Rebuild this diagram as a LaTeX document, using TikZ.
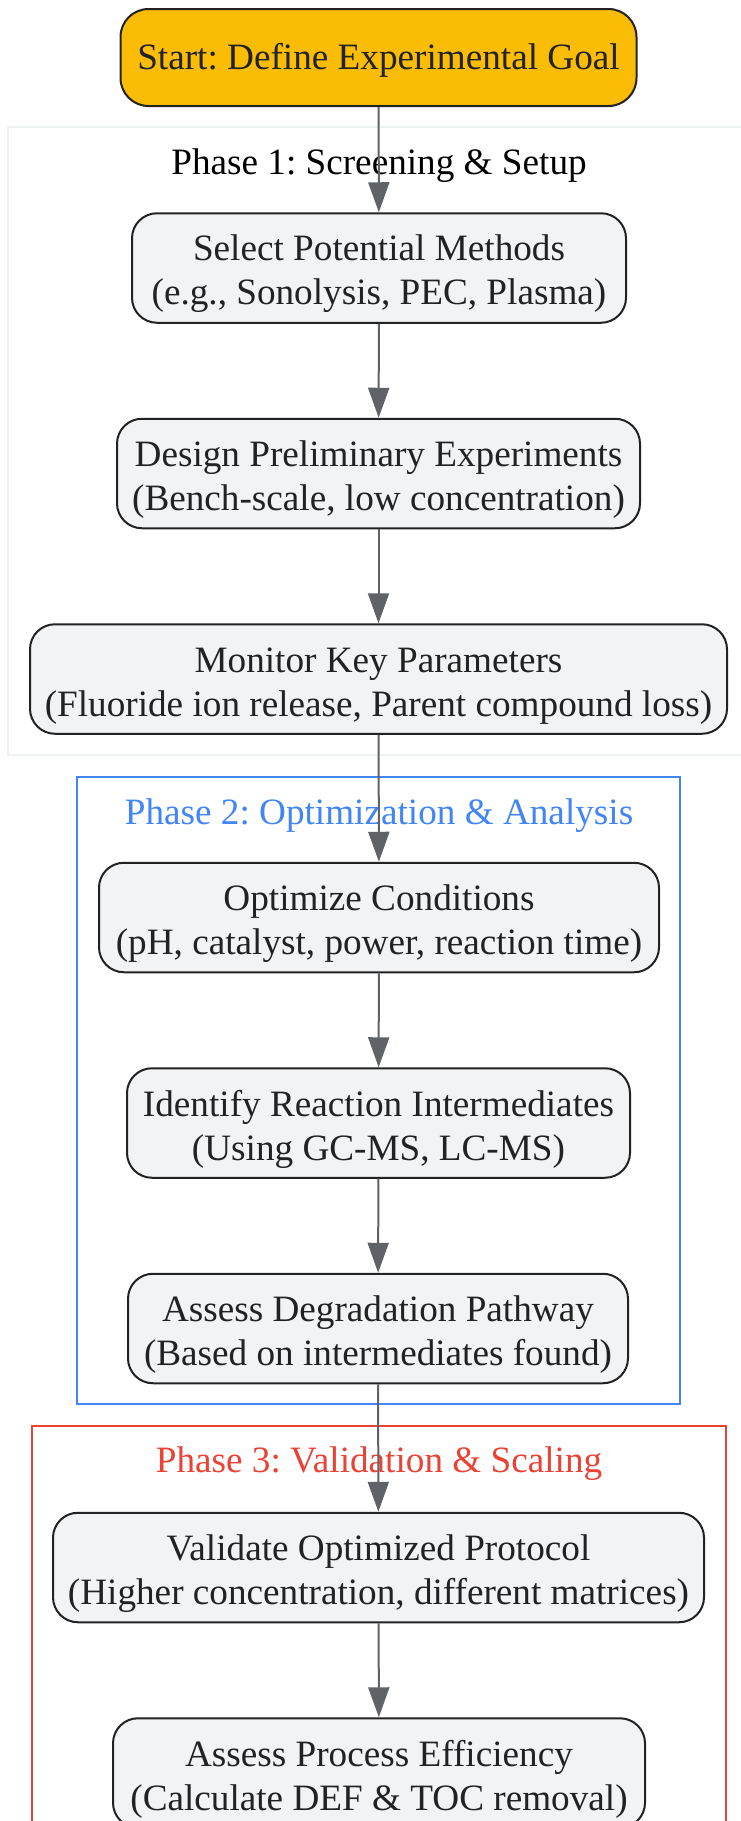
\documentclass[tikz,border=0pt]{standalone}
\usepackage{fontspec}
\setmainfont{Liberation Serif}
\usetikzlibrary{arrows.meta}
\frenchspacing

\definecolor{goalyellow}{HTML}{FBBC05}
\definecolor{stepgrey}{HTML}{F1F3F4}
\definecolor{edgeline}{HTML}{222222}
\definecolor{flowgrey}{HTML}{5F6368}
\definecolor{phaseonegrey}{HTML}{EEF3F2}
\definecolor{phasetwoblue}{HTML}{4285F4}
\definecolor{phasethreered}{HTML}{EA4335}

% invisible rule that pushes the first text line down inside a box
\def\steptop#1{\rule{0pt}{#1}}

\tikzset{
  stepbox/.style={draw=edgeline, line width=2pt, fill=stepgrey, rounded corners=25pt,
    align=center, inner sep=0pt, minimum height=109.5pt, text=edgeline,
    font=\fontsize{37.2}{44}\selectfont},
  startbox/.style={stepbox, fill=goalyellow, minimum height=97pt, rounded corners=28pt},
  phaseframe/.style={line width=2pt},
  phaselabel/.style={font=\fontsize{37.2}{44}\selectfont, inner sep=0pt, anchor=base},
  flow/.style={draw=flowgrey, line width=2pt, -{Triangle[length=30pt,width=21pt]}}
}

\begin{document}
\begin{tikzpicture}[x=1pt,y=-1pt]
		%%%%% START %%%%%
		\useasboundingbox[fill=white] (0,0) rectangle (740,1821);
		
		% phase frames
		\draw[phaseframe, draw=phaseonegrey] (8,127) rectangle (750,755);
		\draw[phaseframe, draw=phasetwoblue] (77,776.5) rectangle (680,1403.5);
		\draw[phaseframe, draw=phasethreered] (32,1426) rectangle (725.5,1835);
		
		\node[phaselabel, text=black] (phaseone) at (379,174) {Phase 1: Screening \& Setup};
		\node[phaselabel, text=phasetwoblue] (phasetwo) at (379,824) {Phase 2: Optimization \& Analysis};
		\node[phaselabel, text=phasethreered] (phasethree) at (379,1472) {Phase 3: Validation \& Scaling};
		
		% steps
		\node[startbox, minimum width=516pt] (goal) at (378.5,57.5) {\steptop{32pt}Start: Define Experimental Goal};
		
		\node[stepbox, minimum width=494pt] (select) at (379,268) {\steptop{38pt}Select Potential Methods\\(e.g., Sonolysis, PEC, Plasma)};
		\node[stepbox, minimum width=523pt] (design) at (378.5,473.5) {\steptop{38pt}Design Preliminary Experiments\\(Bench-scale, low concentration)};
		\node[stepbox, minimum width=697pt] (monitor) at (378.5,679) {\steptop{38pt}Monitor Key Parameters\\(Fluoride ion release, Parent compound loss)};
		
		\node[stepbox, minimum width=560pt] (optimize) at (379,917.5) {\steptop{38pt}Optimize Conditions\\(pH, catalyst, power, reaction time)};
		\node[stepbox, minimum width=503pt] (identify) at (378.5,1123) {\steptop{38pt}Identify Reaction Intermediates\\(Using GC-MS, LC-MS)};
		\node[stepbox, minimum width=500pt] (pathway) at (378,1328.5) {\steptop{38pt}Assess Degradation Pathway\\(Based on intermediates found)};
		
		\node[stepbox, minimum width=651pt] (validate) at (378.5,1567.5) {\steptop{38pt}Validate Optimized Protocol\\(Higher concentration, different matrices)};
		\node[stepbox, minimum width=532pt] (efficiency) at (379,1773) {\steptop{38pt}Assess Process Efficiency\\(Calculate DEF \& TOC removal)};
		
		% connectors
		\draw[flow] (goal) -- (select);
		\draw[flow] (select) -- (design);
		\draw[flow] (design) -- (monitor);
		\draw[flow] (monitor) -- (optimize);
		\draw[flow] (optimize) -- (identify);
		\draw[flow] (identify) -- (pathway);
		\draw[flow] (pathway) -- (validate);
		\draw[flow] (validate) -- (efficiency);
		
		%%%%% END %%%%%
	\end{tikzpicture}
\end{document}
